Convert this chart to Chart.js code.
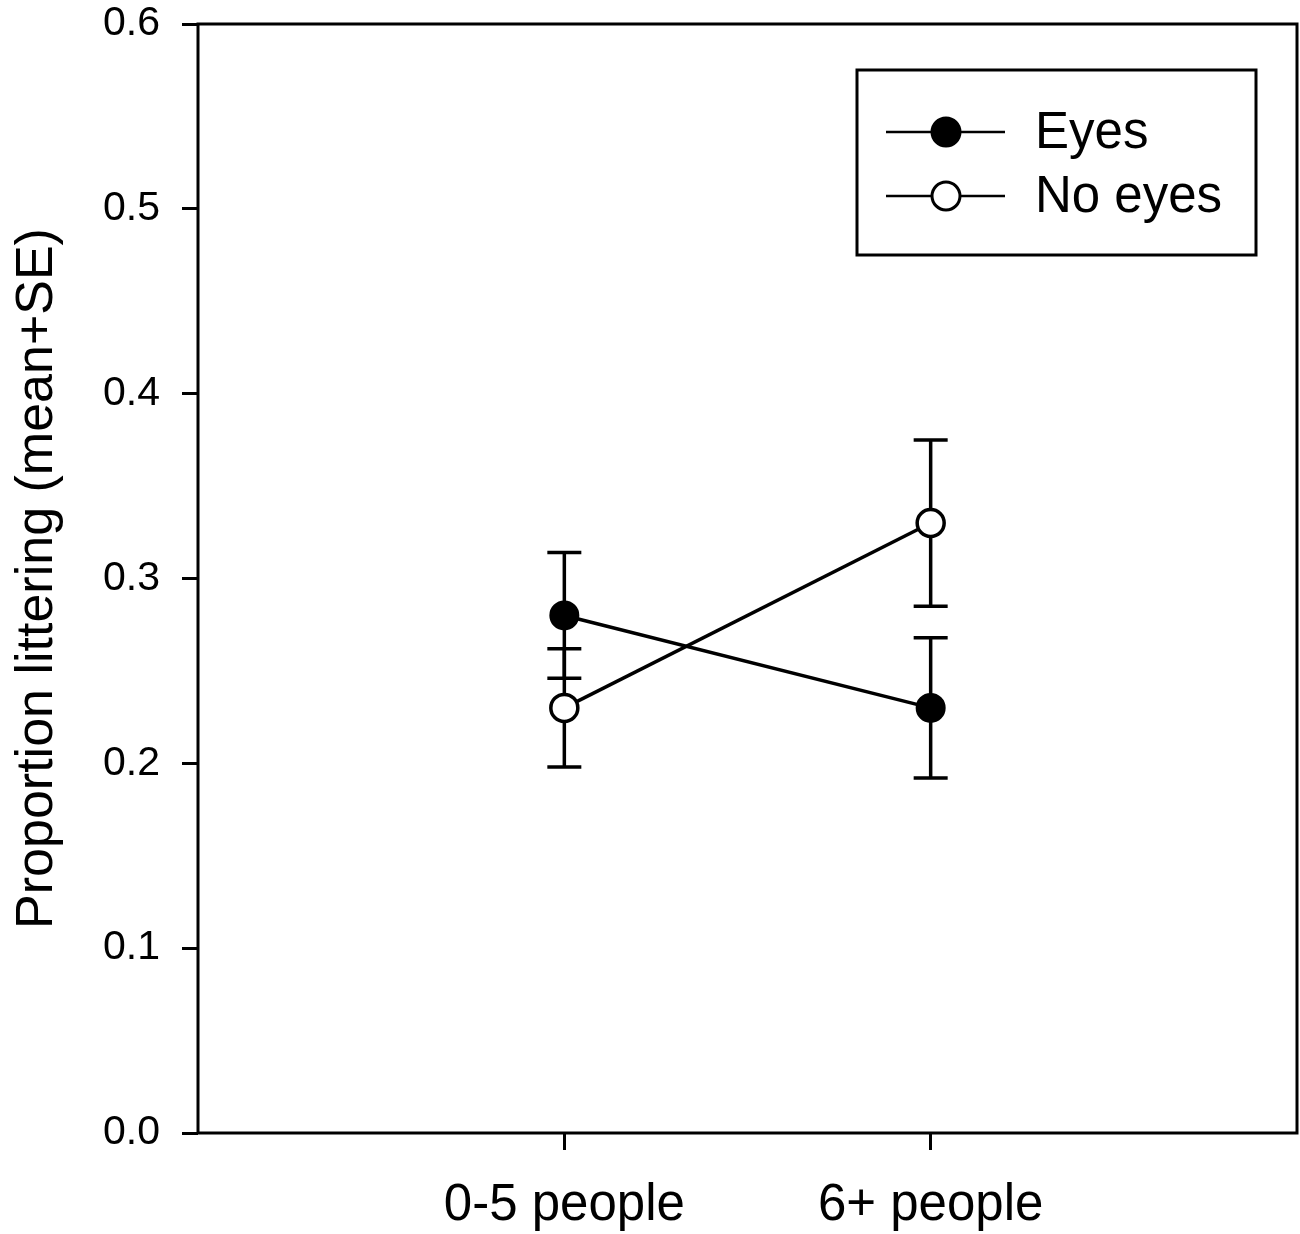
<!DOCTYPE html>
<html lang="en">
  <head>
    <meta charset="UTF-8" />
    <title>Proportion littering</title>
    <style>
      html,
      body {
        margin: 0;
        padding: 0;
        background: #fff;
        overflow: hidden;
      }
      canvas {
        display: block;
      }
    </style>
  </head>
  <body>
    <canvas id="chart" width="1300" height="1234"></canvas>
    <script src="https://cdn.jsdelivr.net/npm/chart.js@4.4.1/dist/chart.umd.min.js"></script>
    <script>
      const categories = ["0-5 people", "6+ people"];
      const eyesMean = [0.28, 0.23];
      const eyesSE = [0.034, 0.038];
      const noEyesMean = [0.23, 0.33];
      const noEyesSE = [0.032, 0.045];
      const yTicks = [0.0, 0.1, 0.2, 0.3, 0.4, 0.5, 0.6];

      const FONT = '"Liberation Sans", Arial, sans-serif';

      // categories sit at x = 1, 2 on a 0..3 linear axis
      function toPoints(values) {
        return values.map((v, i) => ({ x: i + 1, y: v }));
      }

      // Error bars drawn under the markers.
      const errorBars = {
        id: "errorBars",
        beforeDatasetsDraw(chart) {
          const { ctx, scales } = chart;
          ctx.save();
          ctx.strokeStyle = "#000";
          ctx.lineWidth = 3.5;
          chart.data.datasets.forEach((ds) => {
            ds.data.forEach((p, i) => {
              const x = scales.x.getPixelForValue(p.x);
              const top = scales.y.getPixelForValue(p.y + ds.se[i]);
              const bot = scales.y.getPixelForValue(p.y - ds.se[i]);
              ctx.beginPath();
              ctx.moveTo(x, top);
              ctx.lineTo(x, bot);
              ctx.moveTo(x - 17, top);
              ctx.lineTo(x + 17, top);
              ctx.moveTo(x - 17, bot);
              ctx.lineTo(x + 17, bot);
              ctx.stroke();
            });
          });
          ctx.restore();
        },
      };

      // Box around plot area plus the inset legend.
      const frameAndLegend = {
        id: "frameAndLegend",
        afterDraw(chart) {
          const { ctx, chartArea } = chart;
          ctx.save();
          ctx.strokeStyle = "#000";
          ctx.lineWidth = 3;
          ctx.strokeRect(
            chartArea.left,
            chartArea.top,
            chartArea.right - chartArea.left,
            chartArea.bottom - chartArea.top
          );

          const bx = chartArea.right - 440;
          const by = chartArea.top + 46;
          ctx.strokeRect(bx, by, 399, 185);

          ctx.font = "51px " + FONT;
          ctx.textBaseline = "middle";
          ctx.fillStyle = "#000";
          chart.data.datasets.forEach((ds, i) => {
            const y = by + 62 + i * 64;
            ctx.lineWidth = 2.5;
            ctx.beginPath();
            ctx.moveTo(bx + 29, y);
            ctx.lineTo(bx + 148, y);
            ctx.stroke();
            ctx.beginPath();
            ctx.arc(bx + 89, y, 14, 0, Math.PI * 2);
            ctx.fillStyle = ds.pointBackgroundColor;
            ctx.fill();
            ctx.lineWidth = 3;
            ctx.stroke();
            ctx.fillStyle = "#000";
            ctx.fillText(ds.label, bx + 178, y + 2);
          });
          ctx.restore();
        },
      };

      const datasets = [
        {
          label: "Eyes",
          data: toPoints(eyesMean),
          se: eyesSE,
          borderColor: "#000",
          borderWidth: 3.5,
          pointRadius: 13.5,
          pointBorderWidth: 3,
          pointBackgroundColor: "#000",
          pointBorderColor: "#000",
        },
        {
          label: "No eyes",
          data: toPoints(noEyesMean),
          se: noEyesSE,
          borderColor: "#000",
          borderWidth: 3.5,
          pointRadius: 13.5,
          pointBorderWidth: 3.5,
          pointBackgroundColor: "#fff",
          pointBorderColor: "#000",
        },
      ];

      new Chart(document.getElementById("chart"), {
        type: "line",
        data: { datasets },
        plugins: [errorBars, frameAndLegend],
        options: {
          responsive: false,
          animation: false,
          layout: {
            autoPadding: false,
            padding: { top: 24, right: 3, left: 0, bottom: 0 },
          },
          plugins: { legend: { display: false }, tooltip: { enabled: false } },
          scales: {
            x: {
              type: "linear",
              min: 0,
              max: 3,
              afterBuildTicks(scale) {
                scale.ticks = categories.map((c, i) => ({ value: i + 1 }));
              },
              afterFit(scale) {
                scale.height = 101;
                scale.paddingLeft = 0;
                scale.paddingRight = 0;
              },
              border: { display: false },
              grid: {
                drawOnChartArea: false,
                drawTicks: true,
                tickLength: 17,
                lineWidth: 3,
                color: "#000",
              },
              ticks: {
                color: "#000",
                font: { family: FONT, size: 51 },
                padding: 25,
                maxRotation: 0,
                callback: (v) => categories[v - 1] || "",
              },
            },
            y: {
              min: 0,
              max: 0.6,
              afterBuildTicks(scale) {
                scale.ticks = yTicks.map((v) => ({ value: v }));
              },
              afterFit(scale) {
                scale.width = 198;
                scale.paddingTop = 0;
                scale.paddingBottom = 0;
              },
              border: { display: false },
              grid: {
                drawOnChartArea: false,
                drawTicks: true,
                tickLength: 16,
                lineWidth: 3,
                color: "#000",
              },
              ticks: {
                color: "#000",
                font: { family: FONT, size: 41 },
                padding: 22,
                callback: (v) => v.toFixed(1),
              },
              title: {
                display: true,
                text: "Proportion littering (mean+SE)",
                color: "#000",
                font: { family: FONT, size: 52 },
                padding: { top: 6, bottom: 0 },
              },
            },
          },
        },
      });
    </script>
  </body>
</html>
